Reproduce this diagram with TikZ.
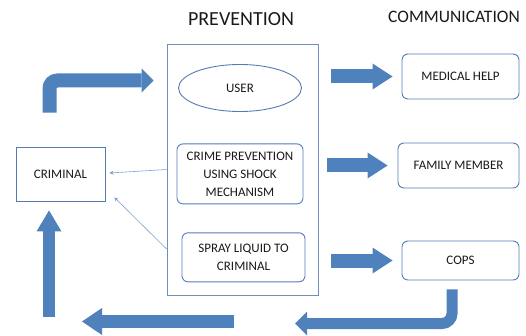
\documentclass[tikz,border=0pt]{standalone}
\usepackage{fontspec}
\setmainfont{Carlito}
\usetikzlibrary{shapes.geometric,arrows.meta,positioning}
\definecolor{arrowblue}{RGB}{79,129,189}
\definecolor{edgeblue}{RGB}{84,124,180}
\definecolor{thinblue}{RGB}{125,160,210}
\definecolor{textgray}{RGB}{25,25,25}

\begin{document}
\begin{tikzpicture}[
    x=1pt, y=-1pt,
    node distance=30pt,
    box/.style={rectangle, draw=edgeblue, line width=0.9pt, rounded corners=6pt, minimum width=117pt, minimum height=45pt, align=center, font=\fontsize{13}{18}\selectfont, text=textgray},
    plainbox/.style={box, sharp corners},
    title/.style={font=\fontsize{20}{24}\selectfont, text=textgray},
    blockarrow/.style={arrowblue, line width=14pt, -{Triangle[length=20pt, width=26pt, line width=0pt]}},
    bentarrow/.style={blockarrow, rounded corners=8pt, -{Triangle[length=12pt, width=24pt, line width=0pt]}},
    thinarrow/.style={thinblue, line width=0.6pt, -{Stealth[length=4pt, width=4pt]}}
]
    \useasboundingbox (0,0) rectangle (526,336);

    % headings
    \node[title] (prevtitle) at (241,19) {PREVENTION};
    \node[title, font=\fontsize{17.5}{21}\selectfont] (commtitle) at (454,17) {COMMUNICATION};

    % prevention column
    \node[plainbox, draw=edgeblue!85, line width=0.8pt, minimum width=151pt, minimum height=251pt] (prevbox) at (242.5,169.5) {};
    \node[box, ellipse, sharp corners, minimum width=123pt, minimum height=47pt] (user) at (240,88) {USER};
    \node[box, minimum width=126pt, minimum height=60pt, below=31.5pt of user] (shock) {CRIME PREVENTION\\USING SHOCK\\MECHANISM};
    \node[box, minimum width=123pt, minimum height=49pt, below=28pt of shock, xshift=3.5pt] (spray) {SPRAY LIQUID TO\\CRIMINAL};

    \node[plainbox, minimum width=89pt, minimum height=54pt] (criminal) at (60.5,174) {CRIMINAL};

    % communication column
    \node[box] (medical) at (460.5,76.5) {MEDICAL HELP};
    \node[box, minimum width=121pt] (family) at (458.5,165.5) {FAMILY MEMBER};
    \node[box, minimum height=39pt] (cops) at (460.5,260.5) {COPS};

    \coordinate (upstart) at (49,317);
    \coordinate (leftstart) at (234,321.5);
    \coordinate (leftend) at (82,321.5);
    \coordinate (bendtip) at (295,323.5);

    \draw[blockarrow, shorten <=13pt, shorten >=9pt] (prevbox.east |- medical) -- (medical);
    \draw[blockarrow, shorten <=9pt, shorten >=10pt] (prevbox.east |- family) -- (family);
    \draw[blockarrow, shorten <=13pt, shorten >=9pt] (prevbox.east |- cops) -- (cops);

    \draw[bentarrow, shorten >=13pt] ([xshift=-11pt, yshift=34pt]criminal.north) |- (prevbox.west |- 0,80.5);
    \draw[bentarrow, line width=11pt, rounded corners=10pt] ([xshift=-8.5pt, yshift=-9pt]cops.south) |- (bendtip);
    \draw[blockarrow, line width=13pt, -{Triangle[length=20pt, width=27pt, line width=0pt]}] (leftstart) -- (leftend);
    \draw[blockarrow, line width=12pt, -{Triangle[length=21pt, width=25pt, line width=0pt]}, shorten >=9pt] (upstart) -- (upstart |- criminal.south);

    \draw[thinarrow] (prevbox.west) -- ([xshift=4pt, yshift=1pt]criminal.east);
    \draw[thinarrow] ([yshift=-79.5pt]prevbox.west) -- ([xshift=9pt, yshift=4pt]criminal.south east);
\end{tikzpicture}
\end{document}
